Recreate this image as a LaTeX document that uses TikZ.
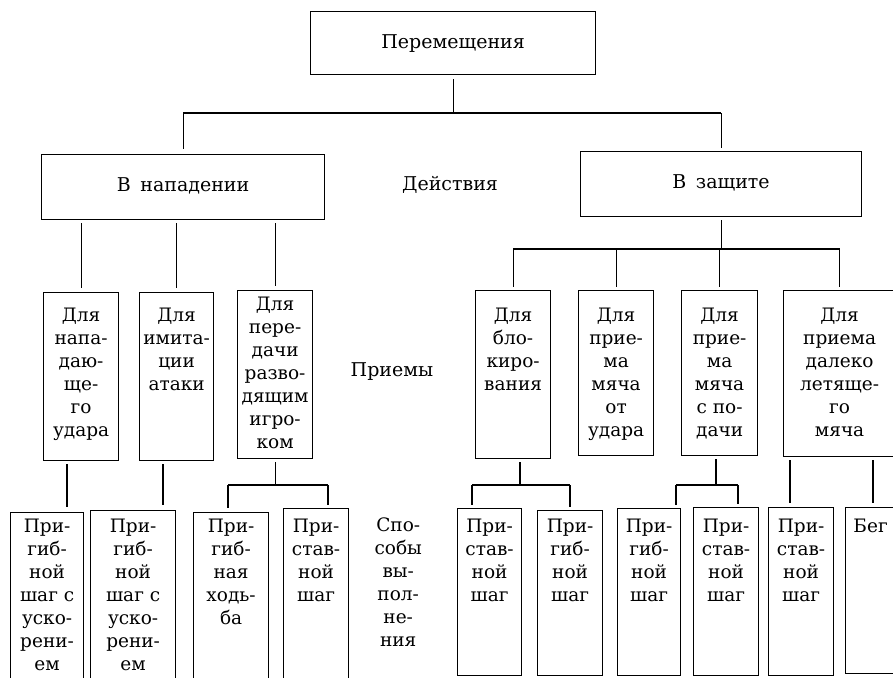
\documentclass[tikz,border=0pt]{standalone}
\usepackage{fontspec}
\setmainfont{DejaVu Serif}
\newcommand\tbox[4]{\parbox[c][#2pt][t]{#1pt}{\centering\rule{0pt}{#3pt}#4\par}}
\begin{document}
\begin{tikzpicture}[x=1pt,y=-1pt,
  box/.style={draw, line width=1.2pt, inner sep=0pt, anchor=north west,
    font=\fontsize{18.5}{23}\selectfont},
  big/.style={font=\fontsize{19}{23}\selectfont},
  lab/.style={inner sep=0pt, anchor=north west, font=\fontsize{18.5}{23}\selectfont},
  conn/.style={line width=1.2pt}]
\useasboundingbox (0,0) rectangle (893,677);
% level 1
\node[box,big] (top) at (310,11) {\tbox{285}{63}{37}{Перемещения}};
% level 2
\node[box,big] (nap) at (41,154) {\tbox{283}{65}{37}{В\enspace нападении}};
\node[box,big] (zas) at (580,151) {\tbox{281}{65}{37}{В\enspace защите}};
\node[big, inner sep=0pt, anchor=base] (dej) at (450,190) {Действия};
% level 3
\node[box] (p1) at (43,292) {\tbox{75}{168}{29}{Для\\напа-\\даю-\\ще-\\го\\удара}};
\node[box] (p2) at (139,292) {\tbox{74}{168}{29}{Для\\имита-\\ции\\атаки}};
\node[box] (p3) at (237,290) {\tbox{75}{168}{20}{Для\\пере-\\дачи\\разво-\\дящим\\игро-\\ком}};
\node[big, inner sep=0pt, anchor=base] (pri) at (392,376) {Приемы};
\node[box] (p4) at (475,290) {\tbox{75}{168}{31}{Для\\бло-\\киро-\\вания}};
\node[box] (p5) at (578,290) {\tbox{75}{165}{31}{Для\\прие-\\ма\\мяча\\от\\удара}};
\node[box] (p6) at (681,290) {\tbox{76}{165}{31}{Для\\прие-\\ма\\мяча\\с по-\\дачи}};
\node[box] (p7) at (783,290) {\tbox{112}{166}{31}{Для\\приема\\далеко\\летяще-\\го\\мяча}};
% level 4
\node[box] (s1) at (10,512) {\tbox{73}{180}{20}{При-\\гиб-\\ной\\шаг с\\уско-\\рени-\\ем}};
\node[box] (s2) at (90,510) {\tbox{85}{182}{22}{При-\\гиб-\\ной\\шаг с\\уско-\\рени-\\ем}};
\node[box] (s3) at (193,512) {\tbox{75}{180}{20}{При-\\гиб-\\ная\\ходь-\\ба}};
\node[box] (s4) at (283,508) {\tbox{65}{184}{24}{При-\\став-\\ной\\шаг}};
\node[lab] (spo) at (370,508) {\tbox{56}{150}{23}{Спо-\\собы\\вы-\\пол-\\не-\\ния}};
\node[box] (t1) at (457,508) {\tbox{64}{167}{24}{При-\\став-\\ной\\шаг}};
\node[box] (t2) at (537,510) {\tbox{65}{165}{22}{При-\\гиб-\\ной\\шаг}};
\node[box] (t3) at (617,508) {\tbox{63}{167}{24}{При-\\гиб-\\ной\\шаг}};
\node[box] (t4) at (693,507) {\tbox{65}{168}{25}{При-\\став-\\ной\\шаг}};
\node[box] (t5) at (768,507) {\tbox{65}{168}{25}{При-\\став-\\ной\\шаг}};
\node[box] (t6) at (845,507) {\tbox{50}{166}{25}{Бег}};
% connectors level 1 -> 2
\coordinate (j0) at (450,113);
\draw[conn, shorten <=4pt] (top.south) -- (top.south |- j0);
\draw[conn] (j0 -| nap.north) -- (j0 -| zas.north);
\draw[conn, shorten >=5pt] (j0 -| nap.north) -- (nap.north);
\draw[conn, shorten >=3pt] (j0 -| zas.north) -- (zas.north);
% level 2 -> 3 (attack)
\foreach \p in {p1,p2,p3}
  \draw[conn, shorten <=3pt, shorten >=4pt] (nap.south -| \p.north) -- (\p.north);
% level 2 -> 3 (defence)
\coordinate (j1) at (0,249);
\draw[conn, shorten <=3pt] (zas.south) -- (zas.south |- j1);
\draw[conn] (j1 -| p4.north) -- (j1 -| p7.north);
\foreach \p in {p4,p5,p6,p7}
  \draw[conn, shorten >=3pt] (j1 -| \p.north) -- (\p.north);
% level 3 -> 4
\coordinate (x1) at (67,0);
\coordinate (x2) at (163,0);
\draw[conn, shorten <=3pt, shorten >=5pt] (x1 |- p1.south) -- (x1 |- s1.north);
\draw[conn, shorten <=3pt, shorten >=5pt] (x2 |- p2.south) -- (x2 |- s2.north);
\coordinate (j2) at (0,485);
\coordinate (a3) at (228,0);
\coordinate (b3) at (328,0);
\draw[conn, shorten <=3pt] (p3.south) -- (p3.south |- j2);
\draw[conn] (a3 |- j2) -- (b3 |- j2);
\draw[conn, shorten >=4pt] (a3 |- j2) -- (a3 |- s3.north);
\draw[conn, shorten >=3pt] (b3 |- j2) -- (b3 |- s4.north);
\coordinate (c4) at (520,0);
\coordinate (a4) at (472,0);
\coordinate (b4) at (570,0);
\draw[conn, shorten <=3pt] (c4 |- p4.south) -- (c4 |- j2);
\draw[conn] (a4 |- j2) -- (b4 |- j2);
\draw[conn, shorten >=3pt] (a4 |- j2) -- (a4 |- t1.north);
\draw[conn, shorten >=3pt] (b4 |- j2) -- (b4 |- t2.north);
\coordinate (c6) at (716,0);
\coordinate (a6) at (676,0);
\coordinate (b6) at (738,0);
\draw[conn, shorten <=3pt] (c6 |- p6.south) -- (c6 |- j2);
\draw[conn] (a6 |- j2) -- (b6 |- j2);
\draw[conn, shorten >=3pt] (a6 |- j2) -- (a6 |- t3.north);
\draw[conn, shorten >=3pt] (b6 |- j2) -- (b6 |- t4.north);
\coordinate (a7) at (790,0);
\coordinate (b7) at (873,0);
\draw[conn, shorten <=3pt, shorten >=4pt] (a7 |- p7.south) -- (a7 |- t5.north);
\draw[conn, shorten <=3pt, shorten >=4pt] (b7 |- p7.south) -- (b7 |- t6.north);
\end{tikzpicture}
\end{document}
